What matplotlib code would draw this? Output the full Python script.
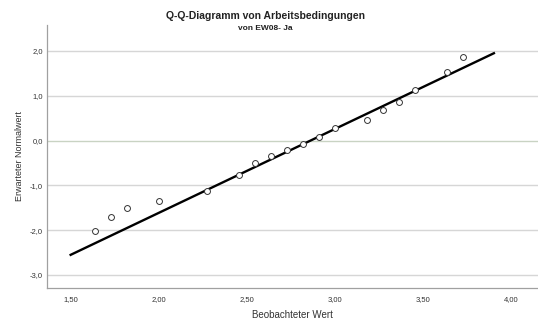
import matplotlib
matplotlib.use('Agg')
import matplotlib.pyplot as plt
import numpy as np

plt.rcParams['font.family'] = ['Liberation Sans', 'DejaVu Sans']

# ===== DATEN =====
beobachtet = [1.636, 1.727, 1.818, 2.000, 2.273, 2.455, 2.545, 2.636, 2.727,
              2.818, 2.909, 3.000, 3.182, 3.273, 3.364, 3.455, 3.636, 3.727]
erwartet = [-2.02, -1.70, -1.50, -1.35, -1.13, -0.77, -0.50, -0.35, -0.21,
            -0.08, 0.09, 0.28, 0.46, 0.68, 0.87, 1.13, 1.53, 1.86]

linie_x = [1.50, 3.90]
linie_y = [-2.55, 1.95]

x_ticks = [1.5, 2.0, 2.5, 3.0, 3.5, 4.0]
x_labels = ['1,50', '2,00', '2,50', '3,00', '3,50', '4,00']
y_ticks = [-3, -2, -1, 0, 1, 2]
y_labels = ['-3,0', '-2,0', '-1,0', '0,0', '1,0', '2,0']

# ===== PLOT =====
fig = plt.figure(figsize=(5.38, 3.22), dpi=100)
ax = fig.add_axes([0.0874, 0.1056, 0.9126, 0.8168])

for yt in y_ticks:
    col = '#c9d3c3' if yt == 0 else '#d6d6d6'
    ax.axhline(yt, color=col, linewidth=1.0, zorder=0)

ax.plot(linie_x, linie_y, color='black', linewidth=1.7, zorder=2)
ax.scatter(beobachtet, erwartet, s=18, facecolors='white',
           edgecolors='#333333', linewidths=0.7, zorder=3)

ax.set_xlim(1.366, 4.15)
ax.set_ylim(-3.29, 2.58)
ax.set_xticks(x_ticks)
ax.set_xticklabels(x_labels)
ax.set_yticks(y_ticks)
ax.set_yticklabels(y_labels)
ax.tick_params(length=0, labelsize=5.5, labelcolor='#333333')
ax.tick_params(axis='x', pad=6)
ax.tick_params(axis='y', pad=3)

for s in ['top', 'right']:
    ax.spines[s].set_visible(False)
for s in ['left', 'bottom']:
    ax.spines[s].set_color('#a0a0a0')
    ax.spines[s].set_linewidth(0.9)

ax.set_xlabel('Beobachteter Wert', fontsize=7, color='#333333', labelpad=5)
ax.set_ylabel('Erwarteter Normalwert', fontsize=6.5, color='#333333', labelpad=4)

fig.text(0.493, 0.950, 'Q-Q-Diagramm von Arbeitsbedingungen', ha='center',
         va='center', fontsize=7.5, fontweight='bold', color='#222222')
fig.text(0.493, 0.912, 'von EW08- Ja', ha='center', va='center',
         fontsize=6, fontweight='bold', color='#222222')

plt.savefig('out.png', dpi=100)
